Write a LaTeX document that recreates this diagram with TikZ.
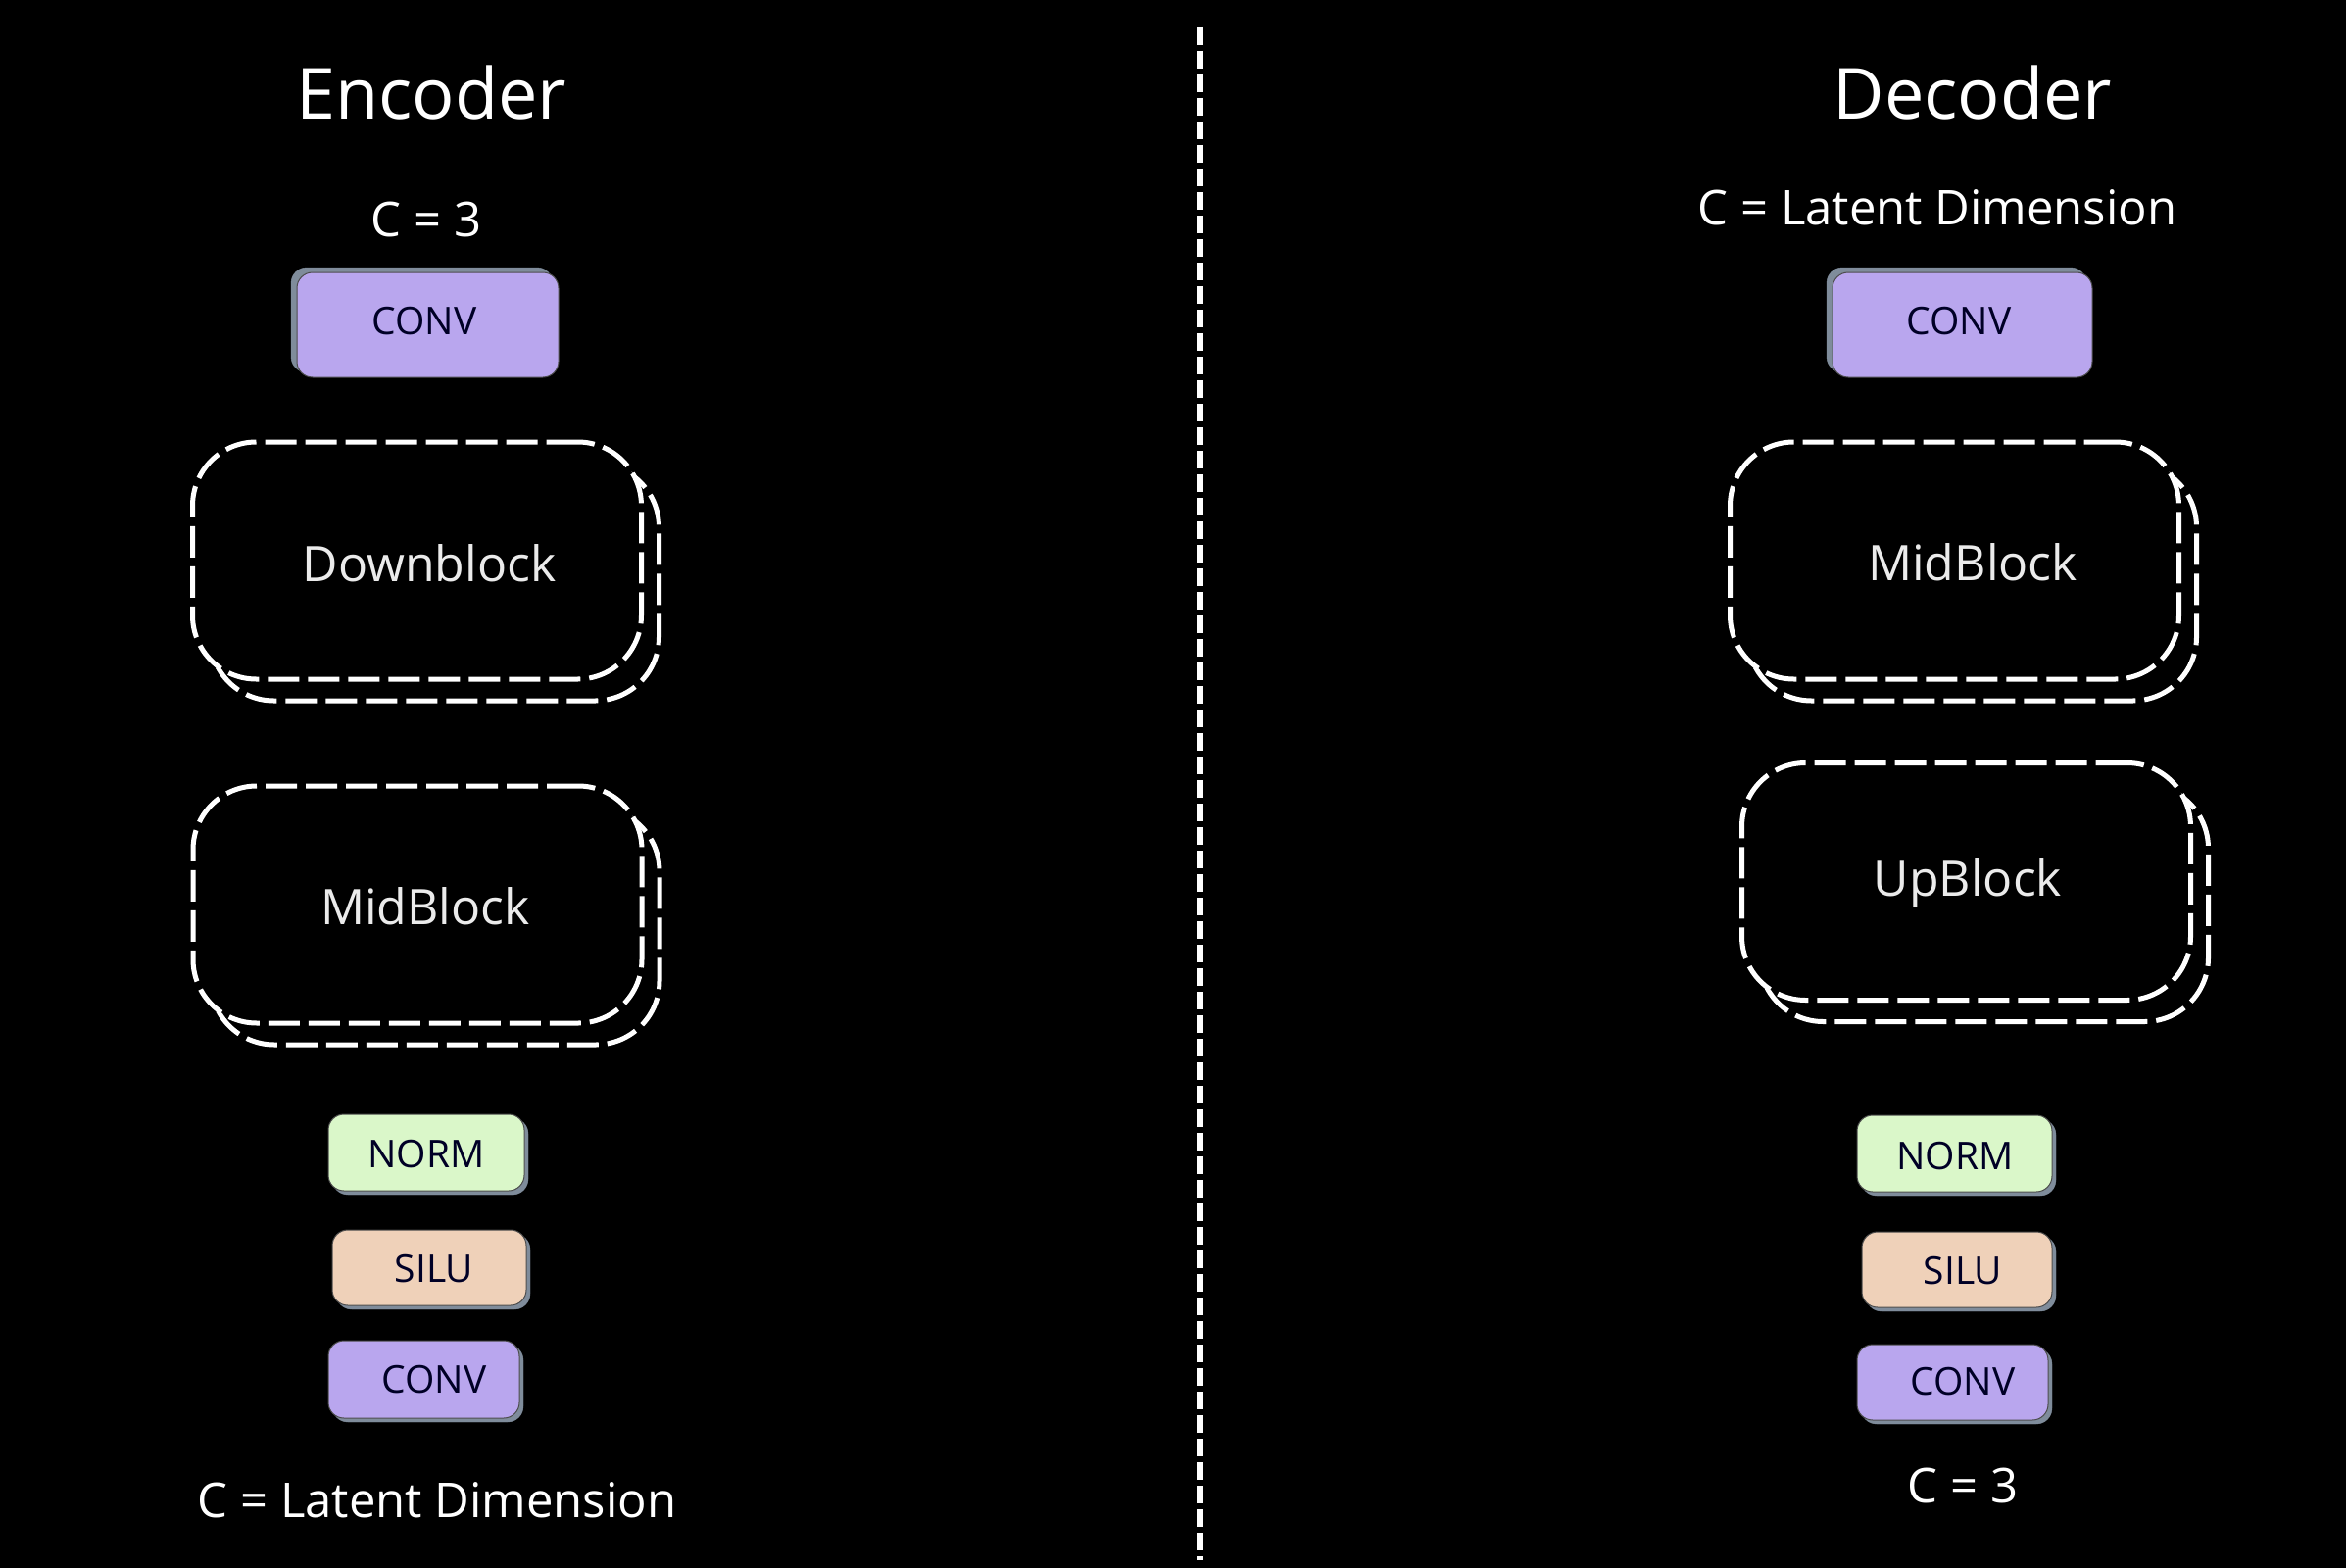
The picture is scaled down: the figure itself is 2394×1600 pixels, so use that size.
\documentclass[tikz,border=0pt]{standalone}
\usepackage{fontspec}
\setmainfont{Open Sans}
\begin{document}
\begin{tikzpicture}[x=1pt,y=-1pt,
  every node/.style={inner sep=0pt,outer sep=0pt},
  title/.style={text=white,font=\fontsize{72}{86}\selectfont},
  chan/.style={text=white,font=\fontsize{49}{59}\selectfont},
  blocklbl/.style={text=white!92!black,font=\fontsize{50}{60}\selectfont},
  boxlbl/.style={text=black!85!blue,font=\fontsize{39}{47}\selectfont},
  smallbox/.style={rounded corners=16pt,draw=black!70,line width=1pt},
  shadowbox/.style={rounded corners=16pt,fill=shadowc,draw=shadowc},
  convc/.style={smallbox,fill=convfill},
  normc/.style={smallbox,fill=normfill},
  siluc/.style={smallbox,fill=silufill},
  dblock/.style={rounded corners=65pt,draw=white,fill=black,line width=5pt,dash pattern=on 32pt off 9pt,minimum width=458pt,minimum height=242pt},
  divider/.style={draw=white,line width=7pt,dash pattern=on 18pt off 6pt}
]
\definecolor{convfill}{HTML}{B9A6EE}
\definecolor{normfill}{HTML}{DAF7C9}
\definecolor{silufill}{HTML}{EFD1B9}
\definecolor{shadowc}{HTML}{7F8C9B}
\fill[black] (0,0) rectangle (2394,1600);
\useasboundingbox (0,0) rectangle (2394,1600);

% divider
\coordinate (dtop) at (1224,28);
\coordinate (dbot) at (1224,1592);
\draw[divider] (dtop) -- (dbot);

% ---------- Encoder ----------
\node[title] (enctitle) at (440,95) {Encoder};
\node[chan] (ecin) at (435,224) {C = 3};

\node[shadowbox,minimum width=267pt,minimum height=107pt] (econv1s) at (430.5,326.5) {};
\node[convc,minimum width=267pt,minimum height=107pt] (econv1) at (436.5,331.5) {};
\node[boxlbl] (econv1l) at (433,328) {CONV};

\node[dblock] (edownb) at (443.5,594) {};
\node[dblock] (edown) at (425.5,572) {};
\node[blocklbl] (edownl) at (438,575) {Downblock};

\node[dblock] (emidb) at (444,945) {};
\node[dblock] (emid) at (426,923) {};
\node[blocklbl] (emidl) at (434,925) {MidBlock};

\node[shadowbox,minimum width=200pt,minimum height=78pt] (enorms) at (439,1180) {};
\node[normc,minimum width=200pt,minimum height=78pt] (enorm) at (435,1176) {};
\node[boxlbl] (enorml) at (435,1178) {NORM};

\node[shadowbox,minimum width=198pt,minimum height=77pt] (esilus) at (442,1297.5) {};
\node[siluc,minimum width=198pt,minimum height=77pt] (esilu) at (438,1293.5) {};
\node[boxlbl] (esilul) at (443,1295) {SILU};

\node[shadowbox,minimum width=195pt,minimum height=79pt] (econv2s) at (436.5,1411.5) {};
\node[convc,minimum width=195pt,minimum height=79pt] (econv2) at (432.5,1407.5) {};
\node[boxlbl] (econv2l) at (443,1408) {CONV};

\node[chan] (ecout) at (446,1531) {C = Latent Dimension};

% ---------- Decoder ----------
\node[title] (dectitle) at (2013,95) {Decoder};
\node[chan] (dcin) at (1977,212) {C = Latent Dimension};

\node[shadowbox,minimum width=265pt,minimum height=107pt] (dconv1s) at (1996.5,326.5) {};
\node[convc,minimum width=265pt,minimum height=107pt] (dconv1) at (2002.5,331.5) {};
\node[boxlbl] (dconv1l) at (1999,328) {CONV};

\node[dblock] (dmidb) at (2012.5,594) {};
\node[dblock] (dmid) at (1994.5,572) {};
\node[blocklbl] (dmidl) at (2013,574) {MidBlock};

\node[dblock] (dupb) at (2024.5,921.5) {};
\node[dblock] (dup) at (2006.5,899.5) {};
\node[blocklbl] (dupl) at (2008,902) {UpBlock};

\node[shadowbox,minimum width=199pt,minimum height=78pt] (dnorms) at (1998.5,1181) {};
\node[normc,minimum width=199pt,minimum height=78pt] (dnorm) at (1994.5,1177) {};
\node[boxlbl] (dnorml) at (1995,1180) {NORM};

\node[shadowbox,minimum width=194pt,minimum height=77pt] (dsilus) at (2001,1299.5) {};
\node[siluc,minimum width=194pt,minimum height=77pt] (dsilu) at (1997,1295.5) {};
\node[boxlbl] (dsilul) at (2003,1297) {SILU};

\node[shadowbox,minimum width=195pt,minimum height=77pt] (dconv2s) at (1996.5,1414.5) {};
\node[convc,minimum width=195pt,minimum height=77pt] (dconv2) at (1992.5,1410.5) {};
\node[boxlbl] (dconv2l) at (2003,1410) {CONV};

\node[chan] (dcout) at (2003,1516) {C = 3};
\end{tikzpicture}
\end{document}
